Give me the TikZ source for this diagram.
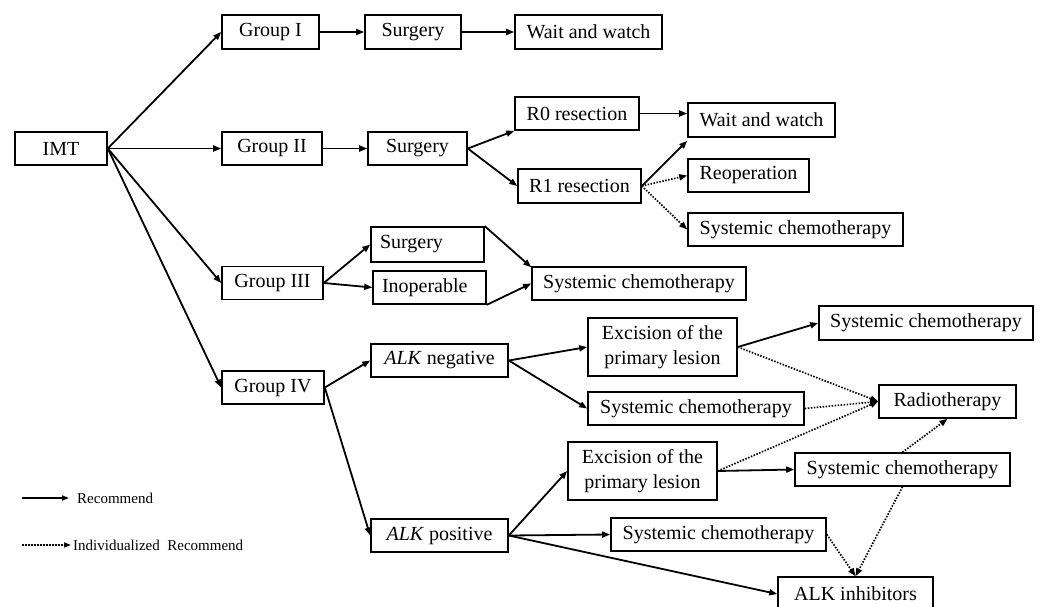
\documentclass[tikz,border=0pt]{standalone}
\usepackage{fontspec}
\setmainfont{Liberation Serif}
\usetikzlibrary{arrows.meta}
\begin{document}
\begin{tikzpicture}[x=1pt,y=-1pt,
  box/.style={draw, line width=1.6pt, inner sep=0pt, align=center, font=\fontsize{20}{25}\selectfont},
  lbox/.style={box, align=left, inner xsep=9pt},
  rec/.style={line width=1.8pt, -{Triangle[length=8pt,width=6pt]}},
  ind/.style={line width=1.7pt, dash pattern=on 1.5pt off 1.5pt, -{Triangle[length=8pt,width=6pt]}},
  legtext/.style={anchor=west, inner sep=0pt, font=\fontsize{15}{18}\selectfont}]
\useasboundingbox (0,0) rectangle (1042,606);
\clip (0,0) rectangle (1042,606);
% nodes
\node[box, minimum width=92pt, minimum height=33pt] (imt) at (61,148.5) {IMT};
\node[box, minimum width=97pt, minimum height=34pt] (g1) at (270.5,32) {Group I};
\node[box, minimum width=96pt, minimum height=34pt] (s1) at (413,32) {Surgery};
\node[box, minimum width=147pt, minimum height=34pt] (w1) at (588.5,32) {Wait and watch};
\node[box, minimum width=100pt, minimum height=33pt] (g2) at (272,148.5) {Group II};
\node[box, minimum width=99pt, minimum height=33pt] (s2) at (417.5,148.5) {Surgery};
\node[box, minimum width=124pt, minimum height=33pt] (r0) at (577,113.5) {R0 resection};
\node[box, minimum width=123pt, minimum height=34pt] (r1) at (579.5,186) {R1 resection};
\node[box, minimum width=147pt, minimum height=34pt] (w2) at (761.5,120) {Wait and watch};
\node[box, minimum width=121pt, minimum height=33pt] (reop) at (748.5,175.5) {Reoperation};
\node[box, minimum width=215pt, minimum height=33pt] (sc2) at (795.5,229.5) {Systemic chemotherapy};
\node[box, minimum width=101pt, minimum height=33pt] (g3) at (272.5,283) {Group III};
\node[lbox, text width=95pt, minimum height=35pt] (s3) at (427.5,244.5) {Surgery};
\node[lbox, text width=95pt, minimum height=33pt] (inop) at (429.5,287.5) {Inoperable};
\node[box, minimum width=214pt, minimum height=33pt] (sc3) at (639,283.5) {Systemic chemotherapy};
\node[box, minimum width=102pt, minimum height=33pt] (g4) at (273,387.5) {Group IV};
\node[box, minimum width=137pt, minimum height=33pt] (neg) at (439.5,360.5) {\textit{ALK} negative};
\node[box, minimum width=149pt, minimum height=58pt] (exn) at (662.5,347) {Excision of the\\primary lesion};
\node[box, minimum width=216pt, minimum height=33pt] (scm) at (696,408.5) {Systemic chemotherapy};
\node[box, minimum width=214pt, minimum height=34pt] (sct) at (926,323) {Systemic chemotherapy};
\node[box, minimum width=137pt, minimum height=33pt] (rad) at (947.5,401.5) {Radiotherapy};
\node[box, minimum width=149pt, minimum height=58pt] (exp) at (642.5,471) {Excision of the\\primary lesion};
\node[box, minimum width=215pt, minimum height=33pt] (scr) at (902.5,469.5) {Systemic chemotherapy};
\node[box, minimum width=137pt, minimum height=33pt] (pos) at (439.5,535.5) {\textit{ALK} positive};
\node[box, minimum width=215pt, minimum height=33pt] (scp) at (718.5,534.5) {Systemic chemotherapy};
\node[box, minimum width=155pt, minimum height=34pt] (alk) at (855.5,594) {ALK inhibitors};
% solid connectors
\draw[rec] (imt.east) -- (g1.west);
\draw[rec] (imt.east) -- (g2.west);
\draw[rec] (imt.east) -- (g3.west);
\draw[rec] (imt.east) -- (g4.west);
\draw[rec] (g1) -- (s1);
\draw[rec] (s1) -- (w1);
\draw[rec] (g2) -- (s2);
\draw[rec] (s2.east) -- (r0.south west);
\draw[rec] (s2.east) -- (r1.west);
\draw[rec] (r0.east) -- (r0.east -| w2.west);
\draw[rec] (r1.east) -- ([yshift=-3pt]w2.south west);
\draw[rec] (g3.east) -- (s3.west);
\draw[rec] (g3.east) -- (inop.west);
\draw[rec] (s3.north east) -- ([yshift=-1pt]sc3.north west);
\draw[rec] (inop.south east) -- (sc3.west);
\draw[rec] (g4.east) -- (neg.west);
\draw[rec] (g4.east) -- (pos.west);
\draw[rec] (neg.east) -- (exn.west);
\draw[rec] (neg.east) -- (scm.west);
\draw[rec] (exn.east) -- (sct.west);
\draw[rec] (pos.east) -- (exp.west);
\draw[rec] (pos.east) -- (scp.west);
\draw[rec] (pos.east) -- (alk.west);
\draw[rec] (exp.east) -- (scr.west);
% dotted connectors
\draw[ind] (r1.east) -- (reop.west);
\draw[ind] (r1.east) -- (sc2.west);
\draw[ind] (exn.east) -- (rad.west);
\draw[ind] (scm.east) -- (rad.west);
\draw[ind] (exp.east) -- (rad.west);
\draw[ind] (scr.north) -- (rad.south);
\draw[ind] (scr.south) -- (alk.north);
\draw[ind] (scp.east) -- (alk.north);
% legend
\coordinate (la1) at (22,498);
\coordinate (la2) at (69,498);
\node[legtext] (lt1) at (77,498) {Recommend};
\coordinate (lb1) at (22,545);
\coordinate (lb2) at (71,545);
\node[legtext] (lt2) at (73,545) {Individualized\ \ Recommend};
\draw[rec, line width=1.5pt, -{Triangle[length=7pt,width=5pt]}] (la1) -- (la2);
\draw[ind, line width=1.4pt, -{Triangle[length=7pt,width=5pt]}] (lb1) -- (lb2);
\end{tikzpicture}
\end{document}
